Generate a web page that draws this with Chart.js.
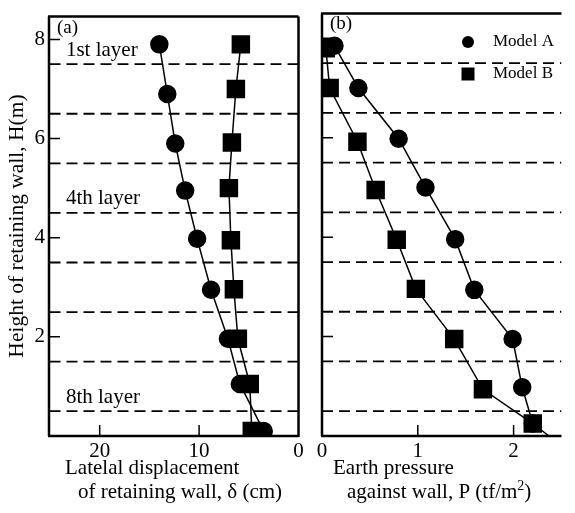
<!DOCTYPE html>
<html>
<head>
<meta charset="utf-8">
<script src="https://cdn.jsdelivr.net/npm/chart.js@4.4.1/dist/chart.umd.min.js"></script>
<style>
  body { margin: 0; background: #fff; }
  #wrap { position: relative; width: 575px; height: 513px; overflow: hidden; background: #fff; }
  canvas { position: absolute; top: 0; }
</style>
</head>
<body>
<div id="wrap">
  <canvas id="dispChart" width="312" height="513" style="left:0"></canvas>
  <canvas id="presChart" width="270" height="513" style="left:305px"></canvas>
</div>
<script>
// panel (a): lateral displacement of retaining wall (cm)
var dispHeightA = [7.9, 6.9, 5.9, 4.95, 3.98, 2.95, 1.96, 1.05, 0.1];
var dispModelA  = [14.0, 13.2, 12.4, 11.4, 10.2, 8.8, 7.1, 5.9, 3.5];
var dispHeightB = [7.9, 7.0, 5.92, 5.0, 3.95, 2.96, 1.96, 1.05, 0.1];
var dispModelB  = [5.8, 6.3, 6.7, 7.0, 6.8, 6.5, 6.1, 4.9, 4.7];

// panel (b): earth pressure against wall (tf/m2)
var presHeightA = [7.85, 7.0, 5.98, 5.0, 3.96, 2.94, 1.95, 0.98, 0.25, 0.0];
var presModelA  = [0.13, 0.38, 0.8, 1.08, 1.39, 1.59, 1.99, 2.09, 2.2, 2.37];
var presHeightB = [7.8, 7.0, 5.92, 4.95, 3.95, 2.96, 1.95, 0.94, 0.25];
var presModelB  = [0.04, 0.08, 0.37, 0.56, 0.78, 0.98, 1.38, 1.68, 2.2];

// layer boundaries (dashed) and layer names
var layerBounds = [7.5, 6.5, 5.5, 4.5, 3.5, 2.5, 1.5, 0.5];
var layerNames  = ['1st layer', '4th layer', '8th layer'];
var layerNameH  = [7.78, 4.8, 0.77];

var heightTicks = [2, 4, 6, 8];
var dispTicks   = [0, 10, 20];
var presTicks   = [0, 1, 2];
var seriesNames = ['Model A', 'Model B'];

var FONT = '"Liberation Serif", "DejaVu Serif", serif';

function pts(xs, ys) {
  return xs.map(function (v, i) { return { x: v, y: ys[i] }; });
}

function layerSets(xmin, xmax) {
  return layerBounds.map(function (b) {
    return {
      data: [{ x: xmin, y: b }, { x: xmax, y: b }],
      showLine: true,
      borderColor: '#000',
      borderWidth: 1.8,
      borderDash: [11, 6],
      pointRadius: 0,
      order: 3
    };
  });
}

function seriesSets(ax, ay, bx, by) {
  return [
    {
      label: seriesNames[0],
      data: pts(ax, ay),
      showLine: true,
      borderColor: '#000',
      backgroundColor: '#000',
      borderWidth: 1.5,
      pointStyle: 'circle',
      // the last point on the wall base only carries the line
      pointRadius: function (c) { return (ay[c.dataIndex] <= 0) ? 0 : 8.5; },
      order: 2
    },
    {
      label: seriesNames[1],
      data: pts(bx, by),
      showLine: true,
      borderColor: '#000',
      backgroundColor: '#000',
      borderWidth: 1.5,
      pointStyle: 'rect',
      pointRadius: 12,
      order: 1
    }
  ];
}

function fixedTicks(list) {
  return function (s) { s.ticks = list.map(function (v) { return { value: v }; }); };
}

// frame, inward ticks and all the free text
var decorPlugin = {
  id: 'decor',
  afterDatasetsDraw: function (chart, args, o) {
    var a = chart.chartArea, ctx = chart.ctx;
    var xs = chart.scales.x, ys = chart.scales.y;
    ctx.save();
    ctx.strokeStyle = '#000';
    ctx.lineWidth = 2.5;
    ctx.beginPath();
    ctx.moveTo(a.left, a.top); ctx.lineTo(a.left, a.bottom);
    ctx.moveTo(a.left - 1, a.bottom); ctx.lineTo(a.right, a.bottom);
    ctx.moveTo(a.left - 1, a.top); ctx.lineTo(a.right, a.top);
    if (o.rightBorder) { ctx.moveTo(a.right, a.top); ctx.lineTo(a.right, a.bottom + 1); }
    ctx.stroke();

    ctx.lineWidth = 1.5;
    ctx.beginPath();
    heightTicks.forEach(function (v) {
      var y = ys.getPixelForValue(v);
      ctx.moveTo(a.left, y); ctx.lineTo(a.left + 11, y);
    });
    o.xTicks.forEach(function (v) {
      var x = xs.getPixelForValue(v);
      if (Math.abs(x - a.left) < 3 || Math.abs(x - a.right) < 3) return;
      ctx.moveTo(x, a.bottom); ctx.lineTo(x, a.bottom - 11);
    });
    ctx.stroke();

    ctx.fillStyle = '#000';
    ctx.textBaseline = 'middle';
    ctx.textAlign = 'left';
    ctx.font = '19px ' + FONT;
    ctx.fillText(o.panel, a.left + 8, a.top + 11);

    ctx.font = '21px ' + FONT;
    (o.layers || []).forEach(function (t, i) {
      ctx.fillText(t, xs.getPixelForValue(23.4), ys.getPixelForValue(layerNameH[i]));
    });

    o.titles.forEach(function (t) {
      var x = t[1];
      ctx.fillText(t[0], x, t[2]);
      if (t[3]) {
        x += ctx.measureText(t[0]).width;
        ctx.font = '14px ' + FONT;
        ctx.fillText(t[3], x, t[2] - 6);
        x += ctx.measureText(t[3]).width;
        ctx.font = '21px ' + FONT;
        ctx.fillText(')', x, t[2]);
      }
    });

    if (o.yTitle) {
      ctx.save();
      ctx.font = '21.5px ' + FONT;
      ctx.translate(17, 226);
      ctx.rotate(-Math.PI / 2);
      ctx.textAlign = 'center';
      ctx.fillText(o.yTitle, 0, 0);
      ctx.restore();
    }

    if (o.legend) {
      ctx.font = '17px ' + FONT;
      seriesNames.forEach(function (name, i) {
        var y = 42 + i * 32, x = 163;
        ctx.beginPath();
        if (i === 0) { ctx.arc(x, y, 6, 0, Math.PI * 2); }
        else { ctx.rect(x - 6.5, y - 6.5, 13, 13); }
        ctx.fill();
        ctx.fillText(name, 188, y);
      });
    }
    ctx.restore();
  }
};

function baseOptions(xmax, ymax, xTicks, reverse, yWidth, pad, showY, decor) {
  return {
    responsive: false,
    animation: false,
    layout: { padding: pad },
    plugins: { legend: { display: false }, tooltip: { enabled: false }, decor: decor },
    scales: {
      x: {
        type: 'linear', min: 0, max: xmax, reverse: reverse,
        afterBuildTicks: fixedTicks(xTicks),
        afterFit: function (s) { s.height = 77; },
        grid: { display: false, tickLength: 0 }, border: { display: false },
        ticks: { color: '#000', padding: 3, maxRotation: 0, font: { size: 21, family: FONT } }
      },
      y: {
        type: 'linear', min: 0, max: ymax,
        afterBuildTicks: fixedTicks(heightTicks),
        afterFit: function (s) { s.width = yWidth; },
        grid: { display: false, tickLength: 0 }, border: { display: false },
        ticks: { display: showY, color: '#000', padding: 4, font: { size: 21, family: FONT } }
      }
    }
  };
}

new Chart(document.getElementById('dispChart'), {
  type: 'scatter',
  data: { datasets: layerSets(0, 25.1).concat(seriesSets(dispModelA, dispHeightA, dispModelB, dispHeightB)) },
  options: baseOptions(25.1, 8.46, dispTicks, true, 49, { top: 8, right: 11, left: 0, bottom: 0 }, true, {
    rightBorder: true,
    xTicks: dispTicks,
    panel: '(a)',
    layers: layerNames,
    yTitle: 'Height of retaining wall, H(m)',
    titles: [['Latelal displacement', 65, 468], ['of retaining wall, \u03b4 (cm)', 78, 492]]
  }),
  plugins: [decorPlugin]
});

new Chart(document.getElementById('presChart'), {
  type: 'scatter',
  data: { datasets: layerSets(0, 2.5).concat(seriesSets(presModelA, presHeightA, presModelB, presHeightB)) },
  options: baseOptions(2.5, 8.5, presTicks, false, 17, { top: 6, right: 0, left: 0, bottom: 0 }, false, {
    rightBorder: false,
    xTicks: presTicks,
    panel: '(b)',
    legend: true,
    titles: [['Earth pressure', 28, 468], ['against wall, P (tf/m', 42, 492, '2']]
  }),
  plugins: [decorPlugin]
});
</script>
</body>
</html>
